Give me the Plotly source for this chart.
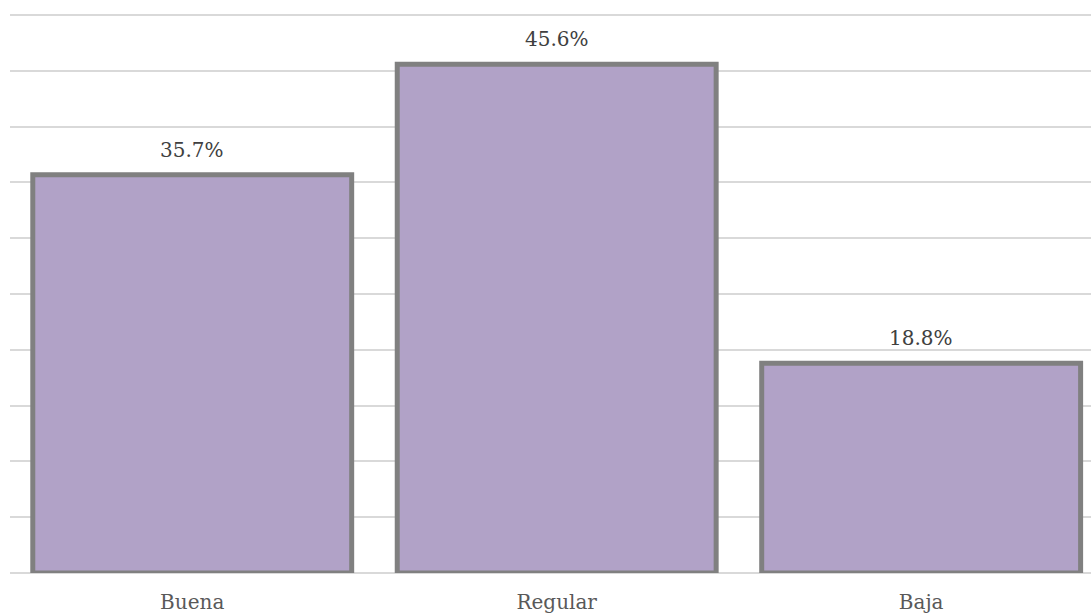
import plotly.graph_objects as go

categories = ["Buena", "Regular", "Baja"]
values = [35.7, 45.6, 18.8]
labels = ["35.7%", "45.6%", "18.8%"]

fig = go.Figure()
fig.add_trace(go.Bar(
    x=categories, y=values,
    width=0.875,
    marker=dict(color="#B1A2C7", line=dict(color="#808080", width=5)),
    hoverinfo="skip",
))

for c, v, t in zip(categories, values, labels):
    fig.add_annotation(x=c, y=v, text=t, showarrow=False, yanchor="bottom",
                       yshift=11, font=dict(family="DejaVu Serif", size=20, color="#404040"))

fig.update_layout(
    width=1091, height=614,
    margin=dict(l=10, r=0, t=14, b=41),
    paper_bgcolor="white", plot_bgcolor="white",
    showlegend=False,
    font=dict(family="DejaVu Serif", size=20, color="#595959"),
    xaxis=dict(range=[-0.5, 2.466], showgrid=False, zeroline=False, showline=False,
               ticks="", ticklabelstandoff=15,
               tickfont=dict(family="DejaVu Serif", size=20, color="#595959")),
    yaxis=dict(range=[0, 50.1], dtick=5, showgrid=True, gridcolor="#D9D9D9", gridwidth=1.5,
               zeroline=True, zerolinecolor="#D9D9D9", zerolinewidth=1.5,
               showticklabels=False, showline=False),
)

fig.write_html("out.html")
